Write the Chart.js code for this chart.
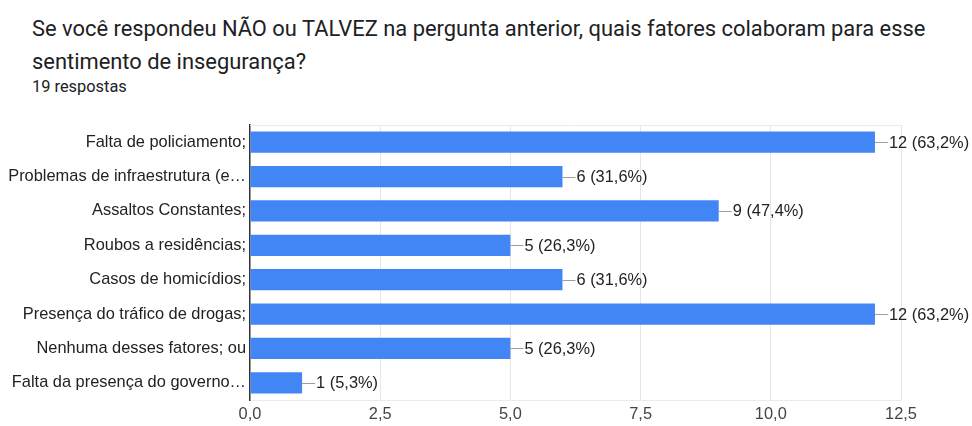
<!DOCTYPE html>
<html lang="pt-BR">
<head>
<meta charset="utf-8">
<script src="https://cdn.jsdelivr.net/npm/chart.js@4/dist/chart.umd.min.js"></script>
<style>
  html, body { margin: 0; padding: 0; background: #fff; }
  body { width: 972px; height: 426px; position: relative; overflow: hidden; }
  #title {
    position: absolute; left: 32px; top: 12px; width: 920px;
    font-family: Roboto, sans-serif; font-size: 21.9px; line-height: 33px; color: #202124;
  }
  #sub {
    position: absolute; left: 32px; top: 77px;
    font-family: Roboto, sans-serif; font-size: 16.4px; color: #202124;
  }
  #wrap { position: absolute; left: 0; top: 110px; width: 972px; height: 316px; }
</style>
</head>
<body>
<div id="title">Se você respondeu NÃO ou TALVEZ na pergunta anterior, quais fatores colaboram para esse sentimento de insegurança?</div>
<div id="sub">19 respostas</div>
<div id="wrap"><canvas id="myChart"></canvas></div>
<script>
const labels = [
  'Falta de policiamento;',
  'Problemas de infraestrutura (e…',
  'Assaltos Constantes;',
  'Roubos a residências;',
  'Casos de homicídios;',
  'Presença do tráfico de drogas;',
  'Nenhuma desses fatores; ou',
  'Falta da presença do governo…'
];
const counts = [12, 6, 9, 5, 6, 12, 5, 1];
const totalAnswers = 19;
const xTicks = [0, 2.5, 5, 7.5, 10, 12.5];

const fontFamily = '"Liberation Sans", Arial, sans-serif';
const fontSize = 16.4;

// "—12 (63,2%)" after each bar
const valueLabels = {
  id: 'valueLabels',
  afterDatasetsDraw(chart) {
    const { ctx, chartArea } = chart;
    ctx.save();
    // top border of the plot
    ctx.strokeStyle = '#ebebeb';
    ctx.lineWidth = 1;
    ctx.beginPath();
    ctx.moveTo(chartArea.left, chartArea.top + 0.5);
    ctx.lineTo(chartArea.right, chartArea.top + 0.5);
    ctx.stroke();

    const meta = chart.getDatasetMeta(0);
    ctx.font = fontSize + 'px ' + fontFamily;
    ctx.textAlign = 'left';
    ctx.textBaseline = 'middle';
    meta.data.forEach((bar, i) => {
      const v = counts[i];
      const pct = (v / totalAnswers * 100).toFixed(1).replace('.', ',');
      const y = Math.round(bar.y) + 0.5;
      ctx.strokeStyle = '#9e9e9e';
      ctx.beginPath();
      ctx.moveTo(bar.x, y);
      ctx.lineTo(bar.x + 13, y);
      ctx.stroke();
      ctx.fillStyle = '#222';
      ctx.fillText(v + ' (' + pct + '%)', bar.x + 14, bar.y + 1);
    });
    ctx.restore();
  }
};

const ctx = document.getElementById('myChart');

new Chart(ctx, {
  type: 'bar',
  data: {
    labels: labels,
    datasets: [{
      data: counts,
      backgroundColor: '#4285f4',
      categoryPercentage: 1,
      barPercentage: 0.62
    }]
  },
  plugins: [valueLabels],
  options: {
    indexAxis: 'y',
    responsive: true,
    maintainAspectRatio: false,
    animation: false,
    layout: { padding: { top: 15, right: 71, left: 0, bottom: 0 } },
    plugins: {
      legend: { display: false },
      tooltip: { enabled: false }
    },
    scales: {
      x: {
        min: 0,
        max: 12.5,
        afterBuildTicks(axis) {
          axis.ticks = xTicks.map(v => ({ value: v }));
        },
        afterFit(axis) { axis.height = 26; },
        ticks: {
          color: '#444',
          font: { family: fontFamily, size: fontSize },
          padding: 5,
          callback: v => v.toFixed(1).replace('.', ',')
        },
        grid: {
          color: c => (c.tick && c.tick.value === 0 ? 'rgba(0,0,0,0)' : '#e6e6e6'),
          drawTicks: false
        },
        border: { color: '#ebebeb' }
      },
      y: {
        afterFit(axis) { axis.width = 250; },
        ticks: {
          color: '#222',
          font: { family: fontFamily, size: fontSize },
          padding: 4
        },
        grid: { display: false, drawTicks: false },
        border: { color: '#333', width: 1.5 }
      }
    }
  }
});
</script>
</body>
</html>
